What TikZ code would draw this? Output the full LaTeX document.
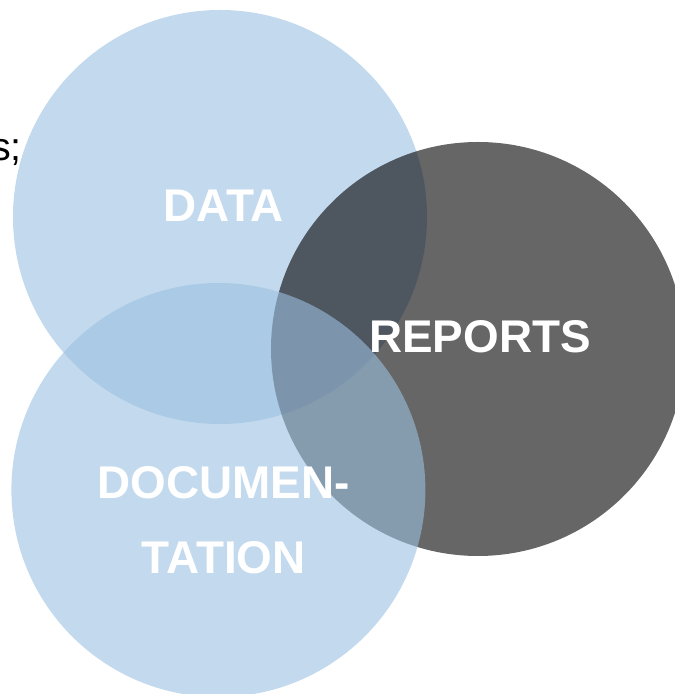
\documentclass[tikz,border=0pt]{standalone}
\usepackage{fontspec}
\setmainfont{Liberation Sans}
\usetikzlibrary{positioning}

\definecolor{setblue}{RGB}{155,192,225}

\begin{document}
\begin{tikzpicture}[
      setcircle/.style={circle, inner sep=0pt, minimum size=10.35cm, draw=none, fill opacity=0.6},
      setlabel/.style={text=white, font=\fontsize{32.6}{53.4}\selectfont\bfseries, align=center, inner sep=0pt}
    ]
      \useasboundingbox (0,0) rectangle (16.85,17.35);

      % left-over text at the margin
      \node[anchor=base east, inner sep=0pt, font=\fontsize{28}{34}\selectfont] (frag) at (0.55,13.33) {s;};

      % the three sets
      \node[setcircle, fill=setblue] (data) at (5.5,11.925) {};
      \node[setcircle, fill=black] (reports) at (11.95,8.625) {};
      \node[setcircle, fill=setblue] (docu) at (5.46,5.1) {};

      % labels
      \node[setlabel] (datalbl) at ([xshift=0.09cm, yshift=0.29cm]data.center) {DATA};
      \node[setlabel] (replbl) at ([xshift=0.05cm, yshift=0.3cm]reports.center) {REPORTS};
      \node[setlabel] (doclbl) at ([xshift=0.13cm, yshift=-0.76cm]docu.center) {DOCUMEN-\\TATION};
    \end{tikzpicture}
\end{document}
